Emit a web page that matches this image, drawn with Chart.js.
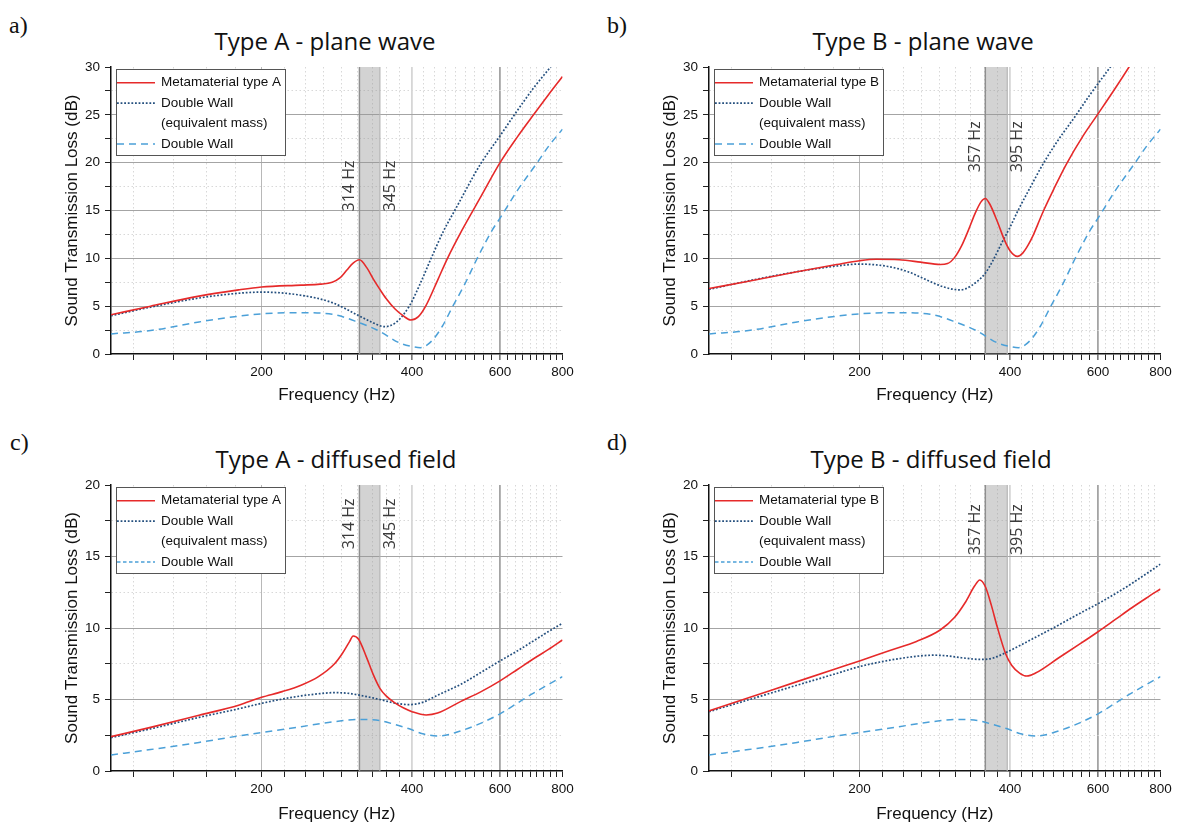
<!DOCTYPE html>
<html>
<head>
<meta charset="utf-8">
<script src="https://cdn.jsdelivr.net/npm/chart.js@4"></script>
<style>
  html, body { margin: 0; padding: 0; background: #fff; }
  body { width: 1177px; height: 824px; position: relative; overflow: hidden; }
  canvas { position: absolute; }
  .tag { position: absolute; font-family: "Liberation Serif", serif; font-size: 24px; line-height: 24px; color: #111; }
  .ttl { position: absolute; font-family: "Open Sans", sans-serif; font-size: 24px; line-height: 24px; color: #111;
         white-space: nowrap; transform: translateX(-50%); }
</style>
</head>
<body>
<div class="tag" style="left:9px;top:13px">a)</div>
<div class="tag" style="left:607px;top:13px">b)</div>
<div class="tag" style="left:10px;top:430px">c)</div>
<div class="tag" style="left:607px;top:430px">d)</div>

<div class="ttl" style="left:325px;top:29px">Type A - plane wave</div>
<div class="ttl" style="left:923px;top:29px">Type B - plane wave</div>
<div class="ttl" style="left:336px;top:447px">Type A - diffused field</div>
<div class="ttl" style="left:931px;top:447px">Type B - diffused field</div>

<canvas id="pa"></canvas>
<canvas id="pb"></canvas>
<canvas id="pc"></canvas>
<canvas id="pd"></canvas>

<script>
// ---- axis ticks ----
const xTickLabels = [200, 400, 600, 800];
const xMinorTicks = [];               // origin style: minor ticks every 200/9 Hz
for (let k = 5; k <= 36; k++) xMinorTicks.push(200 * k / 9);
const yMaxPlane = 30;
const yMaxDiffused = 20;
const yMinorStep = 2.5;
const yLabelStep = 5;

// resonance bands (Hz)
const bandA = [314, 345];
const bandB = [357, 395];

// ---- plane wave ----
const metaAPlaneHz = [100, 120, 150, 180, 200, 240, 262, 277, 287, 296, 305, 314, 325, 335, 345, 355, 370, 385, 398, 412, 426, 450, 470, 503, 550, 600, 650, 700, 750, 800];
const metaAPlaneTL = [4.1, 5.0, 6.05, 6.7, 7.0, 7.2, 7.3, 7.5, 7.95, 8.75, 9.5, 9.85, 9.0, 7.8, 6.75, 5.8, 4.7, 3.95, 3.55, 3.9, 5.0, 7.7, 9.9, 12.9, 16.5, 20.0, 22.7, 25.0, 27.1, 29.0];

const dwEqAPlaneHz = [100, 120, 150, 180, 200, 238, 277, 314, 335, 352, 371, 395, 415, 436, 463, 487, 549, 600, 641, 700, 757, 800];
const dwEqAPlaneTL = [4.0, 4.9, 5.85, 6.35, 6.47, 6.17, 5.37, 3.97, 3.25, 2.86, 3.27, 5.0, 7.3, 9.9, 12.9, 15.0, 19.9, 22.8, 25.0, 27.8, 30.0, 31.6];

const metaBPlaneHz = [100, 120, 150, 180, 200, 216, 240, 265, 290, 300, 310, 320, 330, 340, 350, 357, 365, 377, 390, 400, 414, 425, 435, 445, 455, 467, 490, 518, 560, 600, 650, 692, 800];
const metaBPlaneTL = [6.85, 7.6, 8.6, 9.35, 9.75, 9.9, 9.85, 9.6, 9.35, 9.45, 10.1, 11.3, 12.9, 14.6, 15.9, 16.25, 15.6, 13.9, 11.9, 10.8, 10.2, 10.6, 11.4, 12.4, 13.6, 15.0, 17.3, 19.8, 22.8, 25.1, 27.8, 30.0, 35.3];

const dwEqBPlaneHz = [100, 120, 150, 180, 200, 228, 250, 271, 295, 318, 335, 357, 370, 385, 400, 416, 440, 465, 500, 541, 580, 635, 700, 800];
const dwEqBPlaneTL = [6.75, 7.65, 8.6, 9.2, 9.4, 9.15, 8.6, 7.8, 7.0, 6.7, 7.15, 8.45, 9.8, 11.6, 13.25, 15.1, 17.5, 19.8, 22.4, 24.9, 27.2, 30.0, 33.0, 36.9];

const dwPlaneHz = [100, 120, 150, 180, 200, 238, 277, 314, 344, 377, 400, 416, 438, 460, 481, 510, 539, 578, 600, 650, 712, 750, 800];
const dwPlaneTL = [2.1, 2.45, 3.35, 3.95, 4.2, 4.32, 4.15, 3.27, 2.4, 1.18, 0.78, 0.66, 1.36, 2.9, 4.84, 7.3, 9.9, 12.9, 14.2, 17.1, 20.0, 21.7, 23.5];

// ---- diffused field ----
const metaADiffHz = [100, 120, 150, 180, 200, 220, 240, 260, 280, 290, 300, 305, 313, 324, 335, 345, 355, 369, 385, 400, 427, 450, 500, 550, 600, 650, 700, 750, 800];
const metaADiffTL = [2.4, 3.05, 3.9, 4.6, 5.15, 5.55, 6.0, 6.6, 7.5, 8.2, 9.05, 9.44, 9.2, 8.0, 6.7, 5.78, 5.25, 4.78, 4.4, 4.15, 3.92, 4.05, 4.85, 5.55, 6.3, 7.1, 7.85, 8.5, 9.16];

const dwEqADiffHz = [100, 120, 150, 180, 200, 230, 260, 280, 300, 314, 330, 345, 370, 395, 420, 450, 500, 550, 600, 650, 700, 750, 800];
const dwEqADiffTL = [2.33, 2.95, 3.75, 4.35, 4.73, 5.15, 5.4, 5.48, 5.42, 5.3, 5.15, 5.0, 4.75, 4.64, 4.8, 5.3, 6.05, 6.9, 7.7, 8.4, 9.1, 9.75, 10.33];

const metaBDiffHz = [100, 120, 150, 180, 200, 230, 260, 290, 310, 325, 340, 348, 357, 367, 377, 392, 403, 418, 432, 450, 500, 550, 600, 650, 700, 750, 800];
const metaBDiffTL = [4.2, 5.12, 6.25, 7.17, 7.7, 8.43, 9.06, 9.86, 10.75, 11.75, 12.95, 13.36, 12.9, 11.6, 10.1, 8.2, 7.4, 6.85, 6.64, 6.85, 7.9, 8.85, 9.74, 10.6, 11.4, 12.1, 12.73];

const dwEqBDiffHz = [100, 120, 150, 180, 200, 230, 260, 281, 300, 320, 351, 370, 392, 420, 450, 500, 550, 600, 650, 700, 750, 800];
const dwEqBDiffTL = [4.15, 4.98, 6.0, 6.82, 7.3, 7.75, 8.02, 8.1, 8.05, 7.92, 7.8, 7.9, 8.27, 8.8, 9.35, 10.2, 11.0, 11.7, 12.4, 13.1, 13.8, 14.47];

const dwDiffHz = [100, 120, 150, 180, 200, 240, 280, 314, 345, 370, 395, 420, 454, 500, 550, 600, 650, 700, 750, 800];
const dwDiffTL = [1.12, 1.5, 2.0, 2.45, 2.68, 3.1, 3.45, 3.6, 3.52, 3.25, 2.95, 2.6, 2.45, 2.8, 3.35, 4.0, 4.75, 5.45, 6.05, 6.6];

// ---- layout ----
const boxes = {
  pa: {left: 62, top: 50, right: 578, bottom: 406, plotLeft: 111, plotRight: 562.5, plotTop: 67, plotBottom: 354},
  pb: {left: 660, top: 50, right: 1176, bottom: 406, plotLeft: 709, plotRight: 1160.5, plotTop: 67, plotBottom: 354},
  pc: {left: 62, top: 470, right: 578, bottom: 825, plotLeft: 111, plotRight: 562.5, plotTop: 485, plotBottom: 771},
  pd: {left: 660, top: 470, right: 1176, bottom: 825, plotLeft: 709, plotRight: 1160.5, plotTop: 485, plotBottom: 771}
};

const RED = '#e62a2a', NAVY = '#244f7e', BLUE = '#4ba0d8';

Chart.defaults.font.family = '"Liberation Sans", Arial, sans-serif';
Chart.defaults.color = '#111';

const toPts = (hz, tl) => hz.map((f, i) => ({x: f, y: tl[i]}));
const near = (a, b) => Math.abs(a - b) < 1e-6;
const isMajorX = v => xTickLabels.some(t => near(t, v));

const curve = (label, pts, color, width, dash, legendDash) => ({
  label: label, data: pts, borderColor: color, borderWidth: width, borderDash: dash,
  legendDash: legendDash, pointRadius: 0, fill: false, cubicInterpolationMode: 'monotone', order: 1
});

const bandSets = (band, yMax) => [
  {label: '', data: [{x: band[0], y: yMax}, {x: band[1], y: yMax}], fill: 'origin',
   backgroundColor: 'rgba(150,150,150,0.42)', borderWidth: 0, pointRadius: 0, order: 6},
  {label: '', data: [{x: band[0], y: 0}, {x: band[0], y: yMax}], borderColor: '#8e8e8e', borderWidth: 1.5, pointRadius: 0, order: 5},
  {label: '', data: [{x: band[1], y: 0}, {x: band[1], y: yMax}], borderColor: '#b4b4b4', borderWidth: 1.2, pointRadius: 0, order: 5}
];

const overlay = {
  id: 'overlay',
  afterDatasetsDraw(chart, args, o) {
    const {ctx, chartArea, scales} = chart;
    const x = scales.x, y = scales.y;
    ctx.save();
    // rotated band labels
    ctx.font = '16px "Open Sans"';
    ctx.fillStyle = '#3a3a3a';
    ctx.textBaseline = 'alphabetic';
    const yb = y.getPixelForValue(o.labelAt);
    [[o.band[0], -5], [o.band[1], 15]].forEach(([hz, dx]) => {
      ctx.save();
      ctx.translate(x.getPixelForValue(hz) + dx, yb);
      ctx.rotate(-Math.PI / 2);
      ctx.fillText(hz + ' Hz', 0, 0);
      ctx.restore();
    });
    // legend box
    const lx = chartArea.left + 5, ly = chartArea.top + 2;
    ctx.fillStyle = '#fff';
    ctx.fillRect(lx, ly, 170, 86);
    ctx.strokeStyle = '#555';
    ctx.lineWidth = 1;
    ctx.strokeRect(lx + 0.5, ly + 0.5, 169, 86);
    ctx.font = '13.5px "Liberation Sans"';
    ctx.textBaseline = 'middle';
    let row = 0;
    chart.data.datasets.filter(d => d.legendDash).forEach(d => {
      const lines = Array.isArray(d.label) ? d.label : [d.label];
      lines.forEach((txt, i) => {
        const cy = ly + 13.7 + row * 20.4;
        if (i === 0) {
          ctx.beginPath();
          ctx.strokeStyle = d.borderColor;
          ctx.lineWidth = d.borderWidth;
          ctx.setLineDash(d.legendDash);
          ctx.moveTo(lx + 1, cy);
          ctx.lineTo(lx + 39, cy);
          ctx.stroke();
          ctx.setLineDash([]);
        }
        ctx.fillStyle = '#111';
        ctx.fillText(txt, lx + 45, cy);
        row++;
      });
    });
    ctx.restore();
  }
};

function makeChart(id, yMax, series, band, labelAt) {
  const b = boxes[id];
  const cv = document.getElementById(id);
  cv.width = b.right - b.left;
  cv.height = b.bottom - b.top;
  cv.style.left = b.left + 'px';
  cv.style.top = b.top + 'px';

  new Chart(cv, {
    type: 'line',
    data: {datasets: series.concat(bandSets(band, yMax))},
    options: {
      responsive: false, animation: false, devicePixelRatio: 1,
      layout: {padding: {top: b.plotTop - b.top, right: b.right - b.plotRight, left: 0, bottom: 0}},
      plugins: {legend: {display: false}, tooltip: {enabled: false},
                overlay: {band: band, labelAt: labelAt}},
      scales: {
        x: {
          type: 'logarithmic', min: 100, max: 800,
          afterBuildTicks: s => { s.ticks = xMinorTicks.map(v => ({value: v})); },
          afterFit: s => { s.height = b.bottom - b.plotBottom; },
          ticks: {autoSkip: false, maxRotation: 0, padding: 4, font: {size: 13.5}, color: '#111',
                  callback: v => isMajorX(v) ? String(Math.round(v)) : ''},
          grid: {
            color: c => {
              const v = c.tick ? c.tick.value : null;
              if (v === null || near(v, 800)) return 'rgba(0,0,0,0)';
              if (near(v, 600)) return '#a4a4a4';
              if (near(v, 400)) return '#d6d6d6';
              if (near(v, 200)) return '#b8b8b8';
              return '#d8d8d8';
            },
            lineWidth: c => (c.tick && (near(c.tick.value, 600) || near(c.tick.value, 400))) ? 1.8 : 1,
            tickColor: '#222', tickLength: 6, tickWidth: 1
          },
          border: {color: '#111', width: 1.5, dash: c => (c.tick && !isMajorX(c.tick.value)) ? [1.5, 2.5] : []},
          title: {display: true, text: 'Frequency (Hz)', font: {size: 17}, color: '#111', padding: 0}
        },
        y: {
          type: 'linear', min: 0, max: yMax,
          afterFit: s => { s.width = b.plotLeft - b.left; },
          ticks: {stepSize: yMinorStep, padding: 5, font: {size: 13.5}, color: '#111',
                  callback: v => (v % yLabelStep === 0) ? String(v) : ''},
          grid: {
            color: c => {
              const v = c.tick ? c.tick.value : null;
              if (v === null || v === yMax || v === 0) return 'rgba(0,0,0,0)';
              return (v % yLabelStep === 0) ? '#a4a4a4' : '#d8d8d8';
            },
            lineWidth: 1, tickColor: '#222', tickLength: 6, tickWidth: 1
          },
          border: {color: '#111', width: 1.5, dash: c => (c.tick && c.tick.value % yLabelStep !== 0) ? [1.5, 2.5] : []},
          title: {display: true, text: 'Sound Transmission Loss (dB)', font: {size: 17}, color: '#111', padding: 0}
        }
      }
    },
    plugins: [overlay]
  });
}

const eqLabel = ['Double Wall', '(equivalent mass)'];

makeChart('pa', yMaxPlane, [
  curve('Metamaterial type A', toPts(metaAPlaneHz, metaAPlaneTL), RED, 1.6, [], []),
  curve(eqLabel, toPts(dwEqAPlaneHz, dwEqAPlaneTL), NAVY, 1.7, [1.8, 1.8], [1.8, 1.8]),
  curve('Double Wall', toPts(dwPlaneHz, dwPlaneTL), BLUE, 1.5, [7, 5], [7, 5])
], bandA, 14.9);

makeChart('pb', yMaxPlane, [
  curve('Metamaterial type B', toPts(metaBPlaneHz, metaBPlaneTL), RED, 1.6, [], []),
  curve(eqLabel, toPts(dwEqBPlaneHz, dwEqBPlaneTL), NAVY, 1.7, [1.8, 1.8], [1.8, 1.8]),
  curve('Double Wall', toPts(dwPlaneHz, dwPlaneTL), BLUE, 1.5, [7, 5], [7, 5])
], bandB, 19.0);

makeChart('pc', yMaxDiffused, [
  curve('Metamaterial type A', toPts(metaADiffHz, metaADiffTL), RED, 1.6, [], []),
  curve(eqLabel, toPts(dwEqADiffHz, dwEqADiffTL), NAVY, 1.7, [1.8, 1.8], [1.8, 1.8]),
  curve('Double Wall', toPts(dwDiffHz, dwDiffTL), BLUE, 1.5, [7, 5], [3.5, 2.5])
], bandA, 15.5);

makeChart('pd', yMaxDiffused, [
  curve('Metamaterial type B', toPts(metaBDiffHz, metaBDiffTL), RED, 1.6, [], []),
  curve(eqLabel, toPts(dwEqBDiffHz, dwEqBDiffTL), NAVY, 1.7, [1.8, 1.8], [1.8, 1.8]),
  curve('Double Wall', toPts(dwDiffHz, dwDiffTL), BLUE, 1.5, [7, 5], [3.5, 2.5])
], bandB, 15.1);
</script>
</body>
</html>
